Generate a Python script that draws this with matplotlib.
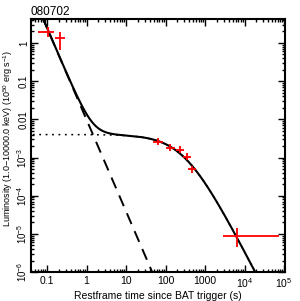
import numpy as np
import matplotlib.pyplot as plt
from matplotlib.ticker import FixedLocator, LogLocator, NullFormatter

plt.rcParams['font.family'] = ['Liberation Sans', 'DejaVu Sans']
plt.rcParams['mathtext.fontset'] = 'custom'
plt.rcParams['mathtext.rm'] = 'Liberation Sans'
plt.rcParams['mathtext.it'] = 'Liberation Sans:italic'
plt.rcParams['mathtext.bf'] = 'Liberation Sans:bold'

# XRT / BAT luminosity points (rest frame)
t = [0.106, 0.21, 65, 130, 234, 350, 470, 6460]
t_lo = [0.059, 0.16, 49, 100, 180, 270, 370, 2830]
t_hi = [0.15, 0.285, 86, 170, 300, 450, 600, 74000]
lum = [1.94, 1.35, 2.6e-3, 1.8e-3, 1.6e-3, 1.04e-3, 5.0e-4, 8.9e-6]
lum_lo = [1.43, 0.656, 2.1e-3, 1.45e-3, 1.3e-3, 0.85e-3, 4.0e-4, 4.6e-6]
lum_hi = [2.6, 1.94, 3.2e-3, 2.2e-3, 1.95e-3, 1.28e-3, 6.1e-4, 1.44e-5]

# fitted model: steep power law + magnetar plateau
PL_NORM = 0.0098
PL_INDEX = 2.4
PLATEAU_L0 = 4.0e-3
PLATEAU_T = 300.0

xticks = [0.1, 1, 10, 100, 1000, 1e4, 1e5]
xticklabels = ['0.1', '1', '10', '100', '1000', r'10$^{4}$', r'10$^{5}$']
yticks = [1e-6, 1e-5, 1e-4, 1e-3, 0.01, 0.1, 1]
yticklabels = [r'10$^{-6}$', r'10$^{-5}$', r'10$^{-4}$', r'10$^{-3}$', '0.01', '0.1', '1']

fig = plt.figure(figsize=(3.0, 3.01), dpi=100)
ax = fig.add_axes([0.103, 0.096, 0.847, 0.841])

tt = np.logspace(np.log10(0.03), np.log10(2e5), 600)
pl = PL_NORM * tt ** (-PL_INDEX)
plateau = PLATEAU_L0 / (1 + tt / PLATEAU_T) ** 2

ax.plot(tt, plateau, color='black', linestyle=(0, (1.2, 3)), lw=1.1)
ax.plot(tt, pl, color='black', linestyle=(0, (6, 4)), lw=1.4)
ax.plot(tt, pl + plateau, color='black', lw=1.5)

t = np.array(t)
lum = np.array(lum)
xerr = [t - np.array(t_lo), np.array(t_hi) - t]
yerr = [lum - np.array(lum_lo), np.array(lum_hi) - lum]
ax.errorbar(t, lum, xerr=xerr, yerr=yerr, fmt='none', ecolor='red', elinewidth=1.3, capsize=0)

ax.set_xscale('log')
ax.set_yscale('log')
ax.set_xlim(0.039, 1.06e5)
ax.set_ylim(1.0e-6, 4.25)

ax.xaxis.set_major_locator(FixedLocator(xticks))
ax.set_xticklabels(xticklabels, fontsize=7.5)
ax.yaxis.set_major_locator(FixedLocator(yticks))
ax.set_yticklabels(yticklabels, fontsize=7, rotation=90, va='center')
ax.xaxis.set_minor_locator(LogLocator(base=10, subs=np.arange(2, 10), numticks=20))
ax.yaxis.set_minor_locator(LogLocator(base=10, subs=np.arange(2, 10), numticks=20))
ax.xaxis.set_minor_formatter(NullFormatter())
ax.yaxis.set_minor_formatter(NullFormatter())

ax.tick_params(which='both', direction='in', top=True, right=True, width=1.0)
ax.tick_params(which='major', length=5, pad=3)
ax.tick_params(axis='y', which='major', pad=1.5)
ax.tick_params(which='minor', length=2.5)
for s in ax.spines.values():
    s.set_linewidth(1.5)

ax.set_xlabel('Restframe time since BAT trigger (s)', fontsize=7.5, labelpad=1)
ax.set_ylabel(r'Luminosity (1.0$-$10000.0 keV) (10$^{50}$ erg s$^{-1}$)', fontsize=6.5)
ax.yaxis.set_label_coords(-0.062, 0.53)
ax.set_title('080702', fontsize=8.5, loc='left', pad=3)

fig.savefig('out.png', dpi=100)
